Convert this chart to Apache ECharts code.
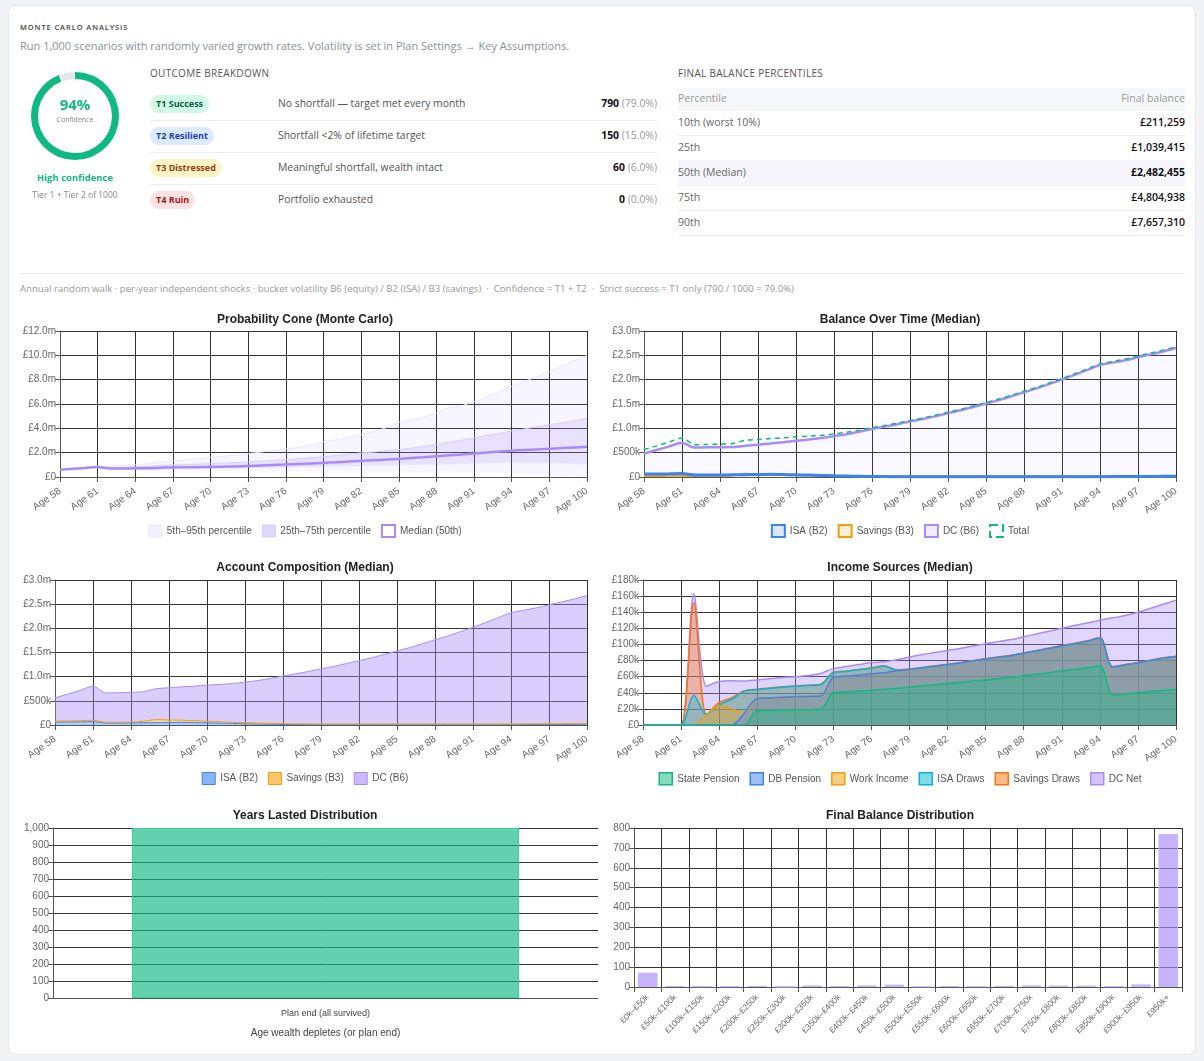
<!DOCTYPE html>
<html>
<head>
<meta charset="utf-8">
<script src="https://cdn.jsdelivr.net/npm/echarts@6/dist/echarts.min.js"></script>
<style>
  html, body { margin: 0; padding: 0; background: #f1f3f6; width: 1204px; height: 1061px; overflow: hidden; }
  body { font-family: "Open Sans", "Noto Sans", sans-serif; position: relative; }
  .card { position: absolute; left: 8px; top: 5px; width: 1188px; height: 1050px; background: #fff; border-radius: 8px; border: 1px solid #e6e8ec; box-sizing: border-box; }
  .abs { position: absolute; white-space: nowrap; }
  .kicker { left: 20px; top: 22px; font-size: 7.5px; letter-spacing: 0.9px; color: #444; font-weight: 600; }
  .sub { left: 20px; top: 38px; font-size: 11px; color: #8a8f98; }
  .h { font-size: 10px; color: #555; letter-spacing: 0.3px; }
  .row { position: absolute; left: 150px; width: 507px; height: 32px; border-bottom: 1px solid #eceef1; font-size: 10.4px; color: #555; }
  .badge { position: absolute; left: 0; top: 7px; height: 18px; line-height: 18px; padding: 0 6px; border-radius: 9px; font-size: 9px; font-weight: 700; }
  .desc { position: absolute; left: 128px; top: 8px; }
  .cnt { position: absolute; right: 0; top: 8px; color: #999; }
  .cnt b { color: #111; font-weight: 700; }
  .prow { position: absolute; left: 678px; width: 507px; height: 25px; line-height: 25px; border-bottom: 1px solid #eceef1; font-size: 10.5px; color: #666; }
  .prow span { position: absolute; right: 0; color: #111; font-weight: 600; }
  .chart { position: absolute; }
</style>
</head>
<body>
<div class="card"></div>
<div class="abs kicker">MONTE CARLO ANALYSIS</div>
<div class="abs sub">Run 1,000 scenarios with randomly varied growth rates. Volatility is set in Plan Settings → Key Assumptions.</div>

<div id="donut" class="chart" style="left:25px;top:66px;width:100px;height:100px;"></div>
<div class="abs" style="left:25px;width:100px;top:94px;text-align:center;font-size:15px;font-weight:700;color:#10b981;">94%</div>
<div class="abs" style="left:25px;width:100px;top:115px;text-align:center;font-size:7px;color:#888;">Confidence</div>
<div class="abs" style="left:15px;width:120px;top:171px;text-align:center;font-size:9.5px;font-weight:700;color:#10b981;">High confidence</div>
<div class="abs" style="left:15px;width:120px;top:189px;text-align:center;font-size:8.5px;color:#888;">Tier 1 + Tier 2 of 1000</div>

<div class="abs h" style="left:150px;top:66px;">OUTCOME BREAKDOWN</div>
<div id="outcomes"></div>

<div class="abs h" style="left:678px;top:66px;">FINAL BALANCE PERCENTILES</div>
<div class="abs" style="left:678px;top:88px;width:507px;height:21px;background:#f7f8fa;border-bottom:1px solid #eceef1;font-size:10.5px;color:#999;line-height:21px;">
  <span style="position:absolute;left:0;">Percentile</span><span style="position:absolute;right:0;">Final balance</span>
</div>
<div id="pct"></div>

<div class="abs" style="left:20px;top:273px;width:1165px;height:1px;background:#e5e7eb;"></div>
<div class="abs" style="left:20px;top:282px;font-size:9.6px;color:#999;">Annual random walk · per-year independent shocks · bucket volatility B6 (equity) / B2 (ISA) / B3 (savings) &nbsp;· &nbsp;Confidence = T1 + T2 &nbsp;· &nbsp;Strict success = T1 only (790 / 1000 = 79.0%)</div>

<div id="cone" class="chart" style="left:10px;top:305px;width:590px;height:245px;"></div>
<div id="balance" class="chart" style="left:600px;top:305px;width:600px;height:245px;"></div>
<div id="account" class="chart" style="left:10px;top:553px;width:590px;height:245px;"></div>
<div id="income" class="chart" style="left:600px;top:553px;width:600px;height:245px;"></div>
<div id="years" class="chart" style="left:10px;top:801px;width:590px;height:245px;"></div>
<div id="finaldist" class="chart" style="left:600px;top:801px;width:600px;height:245px;"></div>

<script>
// ---- summary data ----
var confidence = 94;
var tierNames = ['T1 Success', 'T2 Resilient', 'T3 Distressed', 'T4 Ruin'];
var tierDesc = ['No shortfall — target met every month', 'Shortfall <2% of lifetime target', 'Meaningful shortfall, wealth intact', 'Portfolio exhausted'];
var tierCounts = [790, 150, 60, 0];
var tierBg = ['#d1fae5', '#dbeafe', '#fef3c7', '#fee2e2'];
var tierFg = ['#065f46', '#1e40af', '#92400e', '#991b1b'];
var pctLabels = ['10th (worst 10%)', '25th', '50th (Median)', '75th', '90th'];
var pctValues = [211259, 1039415, 2482455, 4804938, 7657310];

// ---- time axis ----
var ages = [58,59,60,61,62,63,64,65,66,67,68,69,70,71,72,73,74,75,76,77,78,79,80,81,82,83,84,85,86,87,88,89,90,91,92,93,94,95,96,97,98,99,100];

// probability cone, £m
var p5  = [0.60,0.64,0.68,0.74,0.58,0.55,0.53,0.52,0.52,0.52,0.51,0.51,0.50,0.50,0.49,0.49,0.48,0.48,0.47,0.47,0.46,0.46,0.45,0.45,0.44,0.44,0.43,0.43,0.42,0.42,0.41,0.40,0.39,0.38,0.37,0.34,0.30,0.25,0.19,0.13,0.08,0.03,0.00];
var p25 = [0.60,0.66,0.72,0.78,0.64,0.63,0.62,0.62,0.64,0.66,0.67,0.68,0.69,0.70,0.71,0.73,0.75,0.77,0.79,0.81,0.83,0.85,0.87,0.89,0.91,0.93,0.95,0.97,0.99,1.01,1.03,1.05,1.07,1.09,1.12,1.15,1.17,1.16,1.14,1.12,1.10,1.07,1.04];
var p50 = [0.60,0.67,0.74,0.82,0.70,0.70,0.71,0.72,0.76,0.79,0.80,0.81,0.83,0.85,0.87,0.91,0.95,0.99,1.03,1.07,1.11,1.16,1.21,1.27,1.33,1.38,1.43,1.49,1.56,1.63,1.71,1.78,1.85,1.93,2.02,2.09,2.16,2.22,2.27,2.32,2.38,2.43,2.48];
var p75 = [0.60,0.68,0.76,0.85,0.76,0.80,0.84,0.88,0.95,1.00,1.03,1.06,1.10,1.14,1.18,1.24,1.30,1.37,1.43,1.50,1.58,1.67,1.77,1.88,1.98,2.05,2.15,2.25,2.37,2.52,2.68,2.85,3.02,3.20,3.42,3.58,3.78,3.95,4.12,4.30,4.46,4.63,4.80];
var p95 = [0.60,0.70,0.80,0.90,0.88,0.95,1.02,1.10,1.22,1.32,1.40,1.50,1.60,1.70,1.80,1.92,2.05,2.18,2.30,2.45,2.62,2.90,3.05,3.25,3.50,3.75,4.05,4.50,4.70,4.95,5.25,5.70,5.85,6.20,6.55,7.05,7.45,7.85,8.25,8.65,9.10,9.55,10.00];

// median balances by account, £k
var isaBal  = [60,62,65,70,40,40,42,45,48,50,55,50,45,40,32,25,20,15,10,8,6,5,5,5,5,5,5,5,5,5,5,5,5,5,5,5,6,8,10,11,12,13,14];
var savBal  = [22,22,24,28,18,18,20,30,65,55,45,40,35,30,25,22,20,18,17,16,16,16,16,16,16,16,16,16,16,16,16,16,16,16,16,16,16,14,14,14,15,15,15];
var dcBal   = [480,555,630,705,605,610,612,615,640,665,690,715,745,770,800,840,880,930,985,1035,1085,1140,1190,1250,1310,1370,1440,1510,1580,1660,1740,1820,1910,2000,2100,2200,2300,2350,2400,2460,2520,2580,2650];

// median income sources, £k per year
var statePension = [0,0,0,0,0,0,0,0,0,18,18,18.5,19,19,19.5,40,41,42,43,44,45.5,47,48.5,50,51.5,53,54.5,56,57.5,59,61,63,65,67,69,71,74,37,38.5,40,41.5,43,44];
var dbPension    = [0,0,0,0,0,0,0,0,15,15,15.5,16,16,16.5,16.5,19,19.5,20,20.5,21,21.5,22,22.5,23,23.5,24,25,26,26.5,27,28,29,30,31,32,33,34,35,36,37,38.5,40,41];
var workIncome   = [0,0,0,0,0,12,24,20,0,0,0,0,0,0,0,0,0,0,0,0,0,0,0,0,0,0,0,0,0,0,0,0,0,0,0,0,0,0,0,0,0,0,0];
var isaDraws     = [0,0,0,0,37,1,1,12,27,11,12,12.5,13,13.5,14,6,6,6.5,7,8,1,0,0,0,0,0,0,0,0,0,0,0,0,0,0,0,0,0,0,0,0,0,0];
var savingsDraws = [0,0,0,0,115,0,3,2,0.5,0.5,0.5,0.5,0.5,0.5,0.5,0.5,0.5,0.5,0.5,0.5,0.5,0.5,0.5,0.5,0.5,0.5,0.5,0.5,0.5,0.5,0.5,0.5,0.5,0.5,0.5,0.5,0.5,0.5,0.5,0.5,0.5,0.5,0.5];
var dcNet        = [0,0,0,0,11,35,26,21,12,11.5,11.5,11.5,11.5,12,13.5,4.5,5.5,6,6.5,5,12.5,15,16,16.5,17,17.5,18,18.5,19,19.5,20,20.5,21,21.5,22,22,21.5,60.5,61,62.5,64.5,66.5,69.5];

// distributions
var yearsCats = ['Plan end (all survived)'];
var yearsCounts = [1000];
var balBuckets = ['£0k–£50k','£50k–£100k','£100k–£150k','£150k–£200k','£200k–£250k','£250k–£300k','£300k–£350k','£350k–£400k','£400k–£450k','£450k–£500k','£500k–£550k','£550k–£600k','£600k–£650k','£650k–£700k','£700k–£750k','£750k–£800k','£800k–£850k','£850k–£900k','£900k–£950k','£950k+'];
var balCounts = [72,5,4,4,6,2,8,5,8,12,3,5,4,6,8,7,7,4,13,770];

// ---- html tables ----
var total = tierCounts.reduce(function (a, b) { return a + b; }, 0);
var oh = '';
tierNames.forEach(function (n, i) {
  var last = i === tierNames.length - 1;
  oh += '<div class="row" style="top:' + (88 + i * 32) + 'px;' + (last ? 'border-bottom:none;' : '') + '">' +
    '<span class="badge" style="background:' + tierBg[i] + ';color:' + tierFg[i] + ';">' + n + '</span>' +
    '<span class="desc">' + tierDesc[i].replace('<', '&lt;') + '</span>' +
    '<span class="cnt"><b>' + tierCounts[i] + '</b> (' + (tierCounts[i] / total * 100).toFixed(1) + '%)</span></div>';
});
document.getElementById('outcomes').innerHTML = oh;

var ph = '';
pctLabels.forEach(function (l, i) {
  var med = i === 2;
  ph += '<div class="prow" style="top:' + (110 + i * 25) + 'px;' + (med ? 'background:#f6f6fc;' : '') + '">' + l +
    '<span style="' + (med ? 'font-weight:700;' : '') + '">£' + pctValues[i].toLocaleString('en-US') + '</span></div>';
});
document.getElementById('pct').innerHTML = ph;

// ---- charts ----
var FONT = '"Liberation Sans", Arial, sans-serif';
var GRID = '#333';
var ageLabels = ages.map(function (a) { return 'Age ' + a; });

function money(v) {
  if (v === 0) return '£0';
  if (v >= 1000) return '£' + (v / 1000).toFixed(1) + 'm';
  return '£' + v + 'k';
}
function title(t) {
  return { text: t, left: 'center', top: 4, textStyle: { fontSize: 12, fontWeight: 'bold', color: '#222', fontFamily: FONT } };
}
function ageAxis() {
  return {
    type: 'category', data: ageLabels, boundaryGap: false,
    axisLine: { lineStyle: { color: '#555' } },
    axisTick: { interval: 2, length: 5, lineStyle: { color: '#555' } },
    axisLabel: { interval: 2, rotate: 35, color: '#666', fontSize: 10, margin: 13, fontFamily: FONT },
    splitLine: { show: true, interval: 2, lineStyle: { color: GRID } }
  };
}
function valAxis(max, interval, fmt) {
  return {
    type: 'value', min: 0, max: max, interval: interval,
    axisLine: { show: true, lineStyle: { color: '#555' } },
    axisTick: { show: true, length: 5, lineStyle: { color: '#555' } },
    axisLabel: { formatter: fmt, color: '#666', fontSize: 10, margin: 4, fontFamily: FONT },
    splitLine: { lineStyle: { color: GRID } }
  };
}
function legend(items) {
  return {
    top: 214, left: 'center', icon: 'rect', itemWidth: 13, itemHeight: 12, itemGap: 10,
    textStyle: { fontSize: 10, color: '#555', fontFamily: FONT },
    data: items
  };
}
function make(id, opt) {
  var c = echarts.init(document.getElementById(id), null, { renderer: 'canvas' });
  opt.animation = false;
  c.setOption(opt);
}

// donut
make('donut', {
  series: [{
    type: 'pie', radius: [37, 44], center: ['50%', '50%'], startAngle: 90, silent: true,
    label: { show: false }, labelLine: { show: false },
    data: [
      { value: confidence, itemStyle: { color: '#10b981' } },
      { value: 100 - confidence, itemStyle: { color: '#e5e7eb' } }
    ]
  }]
});

// probability cone
var outerDiff = p95.map(function (v, i) { return +(v - p5[i]).toFixed(3); });
var innerDiff = p75.map(function (v, i) { return +(v - p25[i]).toFixed(3); });
var hidden = { opacity: 0, width: 0 };
make('cone', {
  title: title('Probability Cone (Monte Carlo)'),
  legend: legend([
    { name: '5th–95th percentile', itemStyle: { color: '#f3f0fe', borderColor: '#ece6fd', borderWidth: 1 } },
    { name: '25th–75th percentile', itemStyle: { color: '#e0d8fc', borderColor: '#d9cffb', borderWidth: 1 } },
    { name: 'Median (50th)', itemStyle: { color: '#fff', borderColor: '#a78bfa', borderWidth: 2 } }
  ]),
  grid: { left: 50, right: 13, top: 26, bottom: 73 },
  xAxis: ageAxis(),
  yAxis: valAxis(12, 2, function (v) { return v === 0 ? '£0' : '£' + v.toFixed(1) + 'm'; }),
  series: [
    { name: 'p5', type: 'line', stack: 'outer', data: p5, symbol: 'none', smooth: 0.3, lineStyle: hidden },
    { name: '5th–95th percentile', type: 'line', stack: 'outer', data: outerDiff, symbol: 'none', smooth: 0.3,
      lineStyle: { color: '#ebe5fd', width: 1 }, itemStyle: { color: '#ebe5fd' }, areaStyle: { color: 'rgba(167,139,250,0.12)' } },
    { name: 'p25', type: 'line', stack: 'inner', data: p25, symbol: 'none', smooth: 0.3, lineStyle: hidden },
    { name: '25th–75th percentile', type: 'line', stack: 'inner', data: innerDiff, symbol: 'none', smooth: 0.3,
      lineStyle: { color: '#d8cdfb', width: 1 }, itemStyle: { color: '#d8cdfb' }, areaStyle: { color: 'rgba(167,139,250,0.25)' } },
    { name: 'Median (50th)', type: 'line', data: p50, symbol: 'none', smooth: 0.3,
      lineStyle: { color: '#a78bfa', width: 2.5 }, itemStyle: { color: '#a78bfa' } }
  ]
});

// balance over time
var totalBal = dcBal.map(function (v, i) { return v + isaBal[i] + savBal[i]; });
make('balance', {
  title: title('Balance Over Time (Median)'),
  legend: legend([
    { name: 'ISA (B2)', itemStyle: { color: '#dbe8fd', borderColor: '#3b82f6', borderWidth: 2 } },
    { name: 'Savings (B3)', itemStyle: { color: '#fdf0d8', borderColor: '#f59e0b', borderWidth: 2 } },
    { name: 'DC (B6)', itemStyle: { color: '#f1edfe', borderColor: '#a78bfa', borderWidth: 2 } },
    { name: 'Total', itemStyle: { color: '#fff', borderColor: '#10b981', borderWidth: 2, borderType: 'dashed' } }
  ]),
  grid: { left: 44, right: 24, top: 26, bottom: 73 },
  xAxis: ageAxis(),
  yAxis: valAxis(3000, 500, money),
  series: [
    { name: 'DC (B6)', type: 'line', data: dcBal, symbol: 'none', smooth: 0.3,
      lineStyle: { color: '#a78bfa', width: 2.5 }, itemStyle: { color: '#a78bfa' }, areaStyle: { color: 'rgba(167,139,250,0.08)' } },
    { name: 'Savings (B3)', type: 'line', data: savBal, symbol: 'none', smooth: 0.3,
      lineStyle: { color: '#f59e0b', width: 2 }, itemStyle: { color: '#f59e0b' } },
    { name: 'ISA (B2)', type: 'line', data: isaBal, symbol: 'none', smooth: 0.3,
      lineStyle: { color: '#3b82f6', width: 3 }, itemStyle: { color: '#3b82f6' } },
    { name: 'Total', type: 'line', data: totalBal, symbol: 'none', smooth: 0.3,
      lineStyle: { color: '#10b981', width: 1.5, type: [5, 4] }, itemStyle: { color: '#10b981' } }
  ]
});

// account composition (stacked)
make('account', {
  title: title('Account Composition (Median)'),
  legend: legend([
    { name: 'ISA (B2)', itemStyle: { color: 'rgba(59,130,246,0.6)', borderColor: '#3b82f6', borderWidth: 1 } },
    { name: 'Savings (B3)', itemStyle: { color: 'rgba(245,158,11,0.6)', borderColor: '#f59e0b', borderWidth: 1 } },
    { name: 'DC (B6)', itemStyle: { color: 'rgba(167,139,250,0.6)', borderColor: '#a78bfa', borderWidth: 1 } }
  ]),
  grid: { left: 45, right: 13, top: 27, bottom: 73 },
  xAxis: ageAxis(),
  yAxis: valAxis(3000, 500, money),
  series: [
    { name: 'ISA (B2)', type: 'line', stack: 'acc', data: isaBal, symbol: 'none', smooth: 0.3,
      lineStyle: { color: '#3b82f6', width: 1 }, itemStyle: { color: '#3b82f6' }, areaStyle: { color: 'rgba(59,130,246,0.6)' } },
    { name: 'Savings (B3)', type: 'line', stack: 'acc', data: savBal, symbol: 'none', smooth: 0.3,
      lineStyle: { color: '#f59e0b', width: 1 }, itemStyle: { color: '#f59e0b' }, areaStyle: { color: 'rgba(245,158,11,0.6)' } },
    { name: 'DC (B6)', type: 'line', stack: 'acc', data: dcBal, symbol: 'none', smooth: 0.3,
      lineStyle: { color: '#a78bfa', width: 1 }, itemStyle: { color: '#a78bfa' }, areaStyle: { color: 'rgba(167,139,250,0.6)' } }
  ]
});

// income sources: cumulative lines, each filled to zero and overlapping
var incomeSets = [
  { name: 'State Pension', data: statePension, color: '#10b981', rgb: '16,185,129' },
  { name: 'DB Pension', data: dbPension, color: '#3b82f6', rgb: '59,130,246' },
  { name: 'Work Income', data: workIncome, color: '#f59e0b', rgb: '245,158,11' },
  { name: 'ISA Draws', data: isaDraws, color: '#06b6d4', rgb: '6,182,212' },
  { name: 'Savings Draws', data: savingsDraws, color: '#f97316', rgb: '249,115,22' },
  { name: 'DC Net', data: dcNet, color: '#a78bfa', rgb: '167,139,250' }
];
var running = ages.map(function () { return 0; });
var incomeSeries = [];
incomeSets.forEach(function (s) {
  running = running.map(function (v, i) { return v + s.data[i]; });
  incomeSeries.push({
    name: s.name, type: 'line', data: running.slice(), symbol: 'none', smooth: 0.3,
    lineStyle: { color: s.color, width: 1.5 }, itemStyle: { color: s.color },
    areaStyle: { color: 'rgba(' + s.rgb + ',0.5)' }
  });
});
incomeSeries.reverse();
make('income', {
  title: title('Income Sources (Median)'),
  legend: legend(incomeSets.map(function (s) {
    return { name: s.name, itemStyle: { color: 'rgba(' + s.rgb + ',0.5)', borderColor: s.color, borderWidth: 1.5 } };
  })),
  grid: { left: 43, right: 24, top: 27, bottom: 73 },
  xAxis: ageAxis(),
  yAxis: valAxis(180, 20, function (v) { return v === 0 ? '£0' : '£' + v + 'k'; }),
  series: incomeSeries
});

// years lasted
make('years', {
  title: title('Years Lasted Distribution'),
  grid: { left: 43, right: 2, top: 27, bottom: 48 },
  xAxis: {
    type: 'category', data: yearsCats,
    name: 'Age wealth depletes (or plan end)', nameLocation: 'middle', nameGap: 30,
    nameTextStyle: { fontSize: 10, color: '#444', fontFamily: FONT },
    axisLine: { lineStyle: { color: '#555' } }, axisTick: { show: false },
    axisLabel: { fontSize: 9, color: '#444', margin: 11, fontFamily: FONT }
  },
  yAxis: valAxis(1000, 100, function (v) { return v.toLocaleString('en-US'); }),
  series: [{
    type: 'bar', data: yearsCounts, barWidth: '71%',
    itemStyle: { color: 'rgba(16,185,129,0.65)', borderColor: '#34d399', borderWidth: 1 }
  }]
});

// final balance distribution
make('finaldist', {
  title: title('Final Balance Distribution'),
  grid: { left: 34, right: 18, top: 27, bottom: 59 },
  xAxis: {
    type: 'category', data: balBuckets,
    axisLine: { lineStyle: { color: '#555' } },
    axisTick: { show: true, length: 5, lineStyle: { color: '#555' } },
    axisLabel: { interval: 0, rotate: 45, fontSize: 8.5, color: '#666', margin: 9, fontFamily: FONT },
    splitLine: { show: true, interval: 0, lineStyle: { color: GRID } }
  },
  yAxis: valAxis(800, 100, function (v) { return v; }),
  series: [{
    type: 'bar', data: balCounts, barWidth: '72%',
    itemStyle: { color: 'rgba(167,139,250,0.65)', borderColor: '#c4b5fd', borderWidth: 1 }
  }]
});
</script>
</body>
</html>
